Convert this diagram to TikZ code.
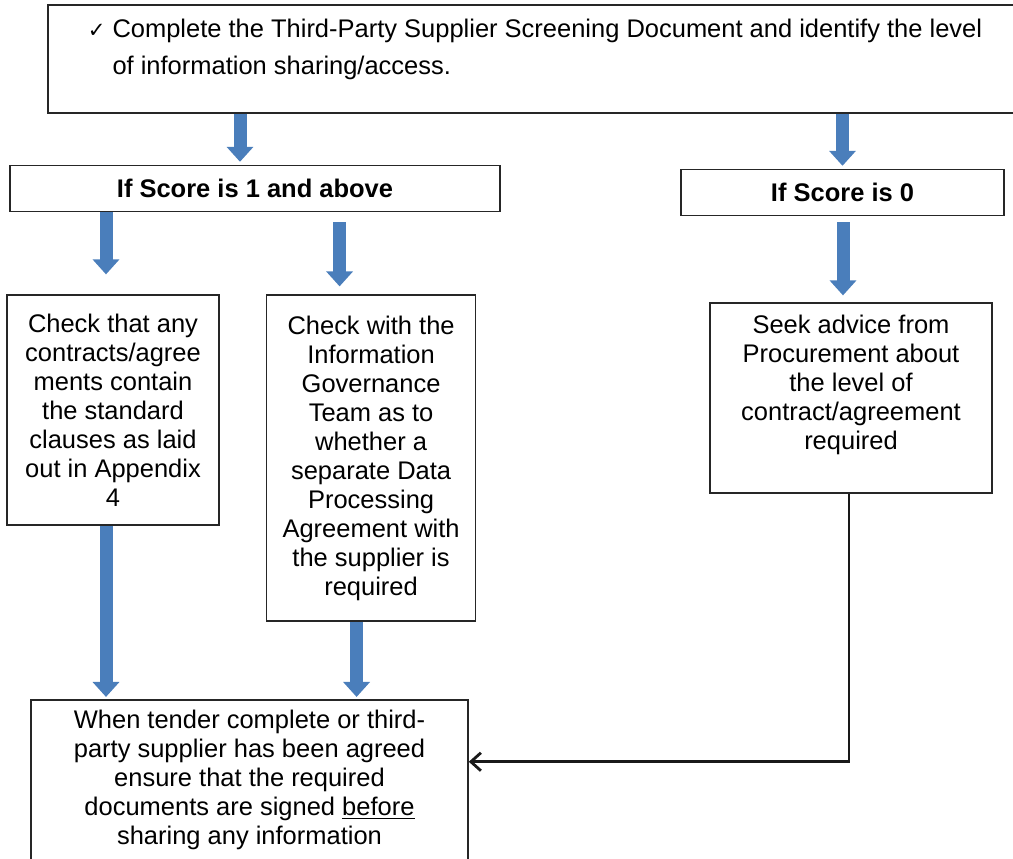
\documentclass[tikz,border=0pt]{standalone}
\usepackage{fontspec}
\setmainfont{Liberation Sans}
\newfontfamily\symbolfont{DejaVu Sans}
\usepackage{xcolor}
\usetikzlibrary{positioning,arrows.meta}
\definecolor{arrowblue}{HTML}{4A7EBB}

\begin{document}
\begin{tikzpicture}[
  box/.style={rectangle, draw=black!85, line width=0.9pt, inner sep=2pt, align=center, font=\fontsize{14.5pt}{16.5pt}\selectfont},
  scorebox/.style={box, minimum height=0.92cm, font=\fontsize{14.5pt}{16.5pt}\selectfont\bfseries},
  blockarr/.style={-{Triangle[length=0.3cm, width=0.52cm]}, line width=0.26cm, draw=arrowblue},
  linkarr/.style={-{Straight Barb[length=0.2cm, width=0.36cm]}, line width=1.6pt, black!90}
]
\useasboundingbox (0,0) rectangle (20.26,-17.16);

% Screening step
\node[box, minimum width=19.48cm, minimum height=2.16cm, font=\fontsize{14.5pt}{21pt}\selectfont] (screen) at (10.70,-1.18) {%
  \begin{tabular}{@{}l@{\hspace{0.14cm}}l@{}}
  {\symbolfont\fontsize{12pt}{12pt}\selectfont ✓} & Complete the Third-Party Supplier Screening Document and identify the level\\
   & of information sharing/access.\\[0.42cm]
  \end{tabular}};

% Score outcomes
\node[scorebox, minimum width=9.8cm, below right=1.02cm and -0.76cm of screen.south west] (sc1) {If Score is 1 and above};
\node[scorebox, minimum width=6.46cm, below left=1.1cm and 0.36cm of screen.south east] (sc0) {If Score is 0};

% Checks
\node[box, minimum width=4.24cm, minimum height=4.6cm, below right=1.64cm and -0.06cm of sc1.south west] (chkA)
  {Check that any\\contracts/agree\\ments contain\\the standard\\clauses as laid\\out in Appendix\\4};
\node[box, minimum width=4.18cm, minimum height=6.52cm, below right=0cm and 0.92cm of chkA.north east] (chkB)
  {Check with the\\Information\\Governance\\Team as to\\whether a\\separate Data\\Processing\\Agreement with\\the supplier is\\required};
\node[box, minimum width=5.64cm, minimum height=3.8cm, below=1.72cm of sc0.south, xshift=0.17cm] (advice)
  {\begin{tabular}{@{}c@{}}Seek advice from\\Procurement about\\the level of\\contract/agreement\\required\\[0.48cm]\end{tabular}};

% Final step
\node[box, minimum width=8.74cm, minimum height=3.2cm, below right=3.46cm and 0.48cm of chkA.south west] (final)
  {When tender complete or third-\\party supplier has been agreed\\ensure that the required\\documents are signed \underline{before}\\sharing any information};

% Block arrows
\draw[blockarr, shorten >=0.06cm] ([xshift=-0.30cm]sc1.north |- screen.south) -- ([xshift=-0.30cm]sc1.north);
\draw[blockarr, shorten >=0.06cm] (sc0.north |- screen.south) -- (sc0.north);
\draw[blockarr, shorten >=0.4cm] ([xshift=-0.14cm]chkA.north |- sc1.south) -- ([xshift=-0.14cm]chkA.north);
\draw[blockarr, shorten <=0.2cm, shorten >=0.16cm] ([xshift=-0.63cm]chkB.north |- sc1.south) -- ([xshift=-0.63cm]chkB.north);
\draw[blockarr, shorten <=0.12cm, shorten >=0.14cm] ([xshift=-0.16cm]advice.north |- sc0.south) -- ([xshift=-0.16cm]advice.north);
\draw[blockarr, shorten >=0.04cm] ([xshift=-0.14cm]chkA.south) -- ([xshift=-0.14cm]chkA.south |- final.north);
\draw[blockarr, shorten >=0.04cm] ([xshift=-0.29cm]chkB.south) -- ([xshift=-0.29cm]chkB.south |- final.north);

% Link from procurement advice
\draw[linkarr] ([xshift=-0.04cm]advice.south) |- ([yshift=0.36cm]final.east);
\end{tikzpicture}
\end{document}
